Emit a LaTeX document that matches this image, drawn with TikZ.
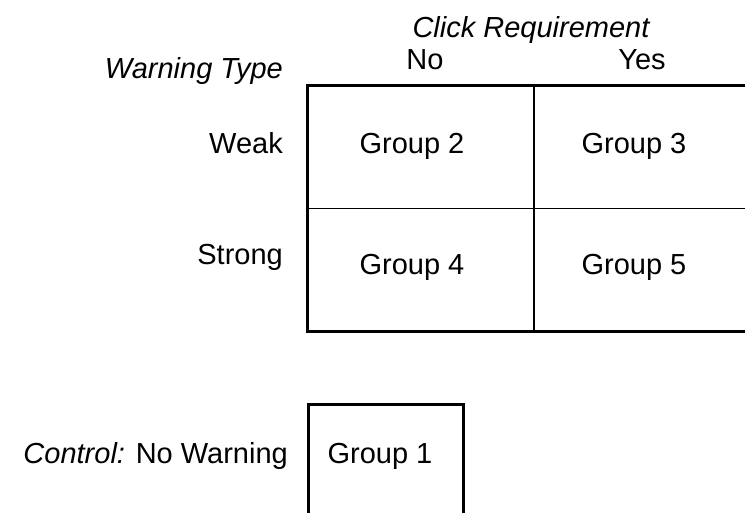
\documentclass[tikz,border=0pt]{standalone}
\usepackage{fontspec}
\setmainfont{Liberation Sans}

\begin{document}
\begin{tikzpicture}[x=1pt, y=-1pt, font=\fontsize{29}{35}\selectfont]
        \tikzstyle{cell}=[rectangle,draw=black,line width=1.5pt,inner sep=0pt,minimum width=226pt,minimum height=122.5pt,anchor=north west]
        \tikzstyle{lbl}=[anchor=base,inner sep=0pt]
        \tikzstyle{side}=[anchor=base east,inner sep=0pt]

        \useasboundingbox (0,0) rectangle (745,512);
        \clip (0,0) rectangle (745,512);

        % the 2x2 table
        \node[cell] (c2) at (307,85) {};
        \node[cell] (c3) at (533,85) {};
        \node[cell] (c4) at (307,207.5) {};
        \node[cell] (c5) at (533,207.5) {};
        \draw[line width=2.5pt] (c2.north west) rectangle (c5.south east);

        \node[lbl] (g2) at (412,153) {Group 2};
        \node[lbl] (g3) at (634,153) {Group 3};
        \node[lbl] (g4) at (412,274) {Group 4};
        \node[lbl] (g5) at (634,274) {Group 5};

        % headings
        \node[lbl] (click) at (531,37) {\itshape Click Requirement};
        \node[lbl] (no) at (425,69) {No};
        \node[lbl] (yes) at (642,69) {Yes};
        \node[side] (wtype) at (283,78) {\itshape Warning Type};
        \node[side] (weak) at (283,153) {Weak};
        \node[side] (strong) at (283,264) {Strong};

        % control group
        \node[rectangle,draw=black,line width=2.5pt,minimum width=155pt,minimum height=160pt,anchor=north west] (box1) at (307,403) {};
        \node[lbl] (g1) at (380,463) {Group 1};
        \node[side] (ctrl) at (288,463) {{\itshape Control:} No Warning};
    \end{tikzpicture}
\end{document}
